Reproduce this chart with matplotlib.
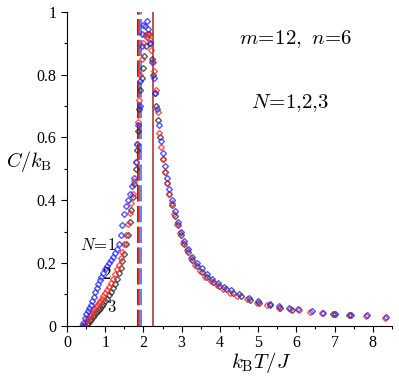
import matplotlib
matplotlib.use("Agg")
import matplotlib.pyplot as plt
from matplotlib.ticker import MultipleLocator

plt.rcParams['font.family'] = 'Liberation Serif'
plt.rcParams['mathtext.fontset'] = 'cm'

# N=1 (blue)
t_n1 = [0.38, 0.42, 0.46, 0.50, 0.54, 0.58, 0.62, 0.66, 0.70, 0.74,
        0.78, 0.82, 0.86, 0.90, 0.95, 1.00, 1.05, 1.10, 1.15, 1.20,
        1.25, 1.30, 1.35, 1.40, 1.45, 1.50, 1.55, 1.60, 1.65, 1.70,
        1.75, 1.80, 1.84, 1.87, 1.90, 1.92, 1.95, 1.97, 2.00, 2.04,
        2.08, 2.12, 2.17, 2.22, 2.27, 2.31, 2.35, 2.40, 2.45, 2.50,
        2.56, 2.62, 2.68, 2.75, 2.82, 2.90, 2.98, 3.07, 3.17, 3.28,
        3.40, 3.52, 3.66, 3.80, 3.95, 4.12, 4.30, 4.50, 4.75, 5.00,
        5.30, 5.56, 5.82, 6.05, 6.40, 6.70, 7.02, 7.42, 7.85, 8.35]
c_n1 = [0.00, 0.010, 0.025, 0.037, 0.047, 0.056, 0.066, 0.078, 0.092, 0.107,
        0.122, 0.134, 0.146, 0.155, 0.167, 0.180, 0.190, 0.200, 0.210, 0.220,
        0.232, 0.245, 0.262, 0.290, 0.320, 0.355, 0.380, 0.400, 0.420, 0.445,
        0.470, 0.520, 0.580, 0.640, 0.700, 0.780, 0.890, 0.930, 0.957, 0.955,
        0.970, 0.945, 0.900, 0.840, 0.790, 0.740, 0.690, 0.640, 0.590, 0.550,
        0.510, 0.470, 0.435, 0.400, 0.365, 0.330, 0.300, 0.270, 0.245, 0.220,
        0.200, 0.183, 0.166, 0.150, 0.137, 0.125, 0.113, 0.100, 0.088, 0.078,
        0.069, 0.062, 0.057, 0.053, 0.047, 0.042, 0.039, 0.035, 0.033, 0.027]

# N=2 (red)
t_n2 = [0.43, 0.47, 0.51, 0.55, 0.59, 0.63, 0.67, 0.71, 0.75, 0.79,
        0.83, 0.87, 0.91, 0.95, 1.00, 1.05, 1.10, 1.15, 1.20, 1.25,
        1.30, 1.35, 1.40, 1.45, 1.50, 1.55, 1.60, 1.64, 1.68, 1.72,
        1.76, 1.80, 1.83, 1.86, 1.89, 1.92, 1.96, 2.00, 2.04, 2.08,
        2.12, 2.16, 2.20, 2.24, 2.28, 2.32, 2.37, 2.41, 2.45, 2.50,
        2.56, 2.62, 2.68, 2.74, 2.81, 2.88, 2.96, 3.04, 3.14, 3.24,
        3.36, 3.48, 3.62, 3.76, 3.92, 4.08, 4.26, 4.46, 4.70, 4.96,
        5.24, 5.54, 5.84, 6.06, 6.36, 6.68, 7.00, 7.40, 7.82, 8.32]
c_n2 = [0.000, 0.008, 0.017, 0.024, 0.030, 0.037, 0.045, 0.053, 0.060, 0.066,
        0.072, 0.080, 0.087, 0.095, 0.105, 0.115, 0.125, 0.137, 0.150, 0.165,
        0.180, 0.195, 0.215, 0.235, 0.260, 0.290, 0.325, 0.360, 0.390, 0.420,
        0.460, 0.520, 0.580, 0.650, 0.720, 0.800, 0.850, 0.900, 0.925, 0.930,
        0.930, 0.910, 0.878, 0.840, 0.810, 0.750, 0.680, 0.613, 0.568, 0.530,
        0.490, 0.455, 0.420, 0.390, 0.355, 0.325, 0.295, 0.265, 0.240, 0.215,
        0.193, 0.175, 0.157, 0.142, 0.130, 0.118, 0.106, 0.096, 0.085, 0.074,
        0.066, 0.058, 0.053, 0.050, 0.045, 0.040, 0.037, 0.033, 0.031, 0.026]

# N=3 (black)
t_n3 = [0.47, 0.51, 0.55, 0.59, 0.63, 0.67, 0.71, 0.75, 0.79, 0.83,
        0.87, 0.91, 0.95, 1.00, 1.05, 1.10, 1.15, 1.20, 1.25, 1.30,
        1.35, 1.40, 1.45, 1.50, 1.55, 1.60, 1.64, 1.68, 1.72, 1.76,
        1.80, 1.83, 1.86, 1.89, 1.92, 1.95, 1.98, 2.02, 2.06, 2.10,
        2.14, 2.18, 2.22, 2.26, 2.30, 2.34, 2.39, 2.44, 2.50, 2.56,
        2.62, 2.68, 2.75, 2.82, 2.90, 2.98, 3.07, 3.17, 3.28, 3.40,
        3.53, 3.67, 3.82, 3.98, 4.15, 4.34, 4.55, 4.78, 5.02, 5.30,
        5.58, 5.88, 6.95, 7.38]
c_n3 = [0.000, 0.005, 0.010, 0.016, 0.022, 0.028, 0.034, 0.040, 0.046, 0.052,
        0.058, 0.064, 0.070, 0.078, 0.087, 0.097, 0.108, 0.120, 0.133, 0.150,
        0.168, 0.185, 0.205, 0.230, 0.260, 0.290, 0.330, 0.370, 0.410, 0.450,
        0.500, 0.560, 0.620, 0.690, 0.750, 0.790, 0.820, 0.860, 0.890, 0.920,
        0.930, 0.900, 0.850, 0.800, 0.740, 0.700, 0.655, 0.600, 0.530, 0.490,
        0.455, 0.420, 0.385, 0.350, 0.320, 0.290, 0.260, 0.235, 0.210, 0.190,
        0.172, 0.155, 0.140, 0.127, 0.116, 0.105, 0.094, 0.083, 0.074, 0.066,
        0.058, 0.052, 0.037, 0.035]

# critical temperatures (vertical guide lines)
tc_dashed = [1.855, 1.875, 1.945]
tc_dashed_colors = ['#6b1a14', '#e03a30', '#5577ff']
tc_solid = 2.26

fig = plt.figure(figsize=(3.99, 3.78), dpi=100)
ax = fig.add_axes([0.168, 0.138, 0.814, 0.831])

for x, col in zip(tc_dashed, tc_dashed_colors):
    ax.axvline(x, color=col, lw=1.3, ls=(0, (9, 2.5)), zorder=1)
ax.axvline(tc_solid, color='#b0382c', lw=1.2, zorder=1)

series = [(t_n3, c_n3, '#303030'), (t_n2, c_n2, '#ff2a2a'), (t_n1, c_n1, '#2b2bff')]
for t, c, col in series:
    ax.plot(t, c, ls='none', marker='D', ms=3.0, mfc='none', mec=col,
            mew=1.0, alpha=0.8, zorder=2)

ax.set_xlim(0, 8.5)
ax.set_ylim(0, 1)
ax.spines['top'].set_visible(False)
ax.spines['right'].set_visible(False)
ax.xaxis.set_major_locator(MultipleLocator(1))
ax.xaxis.set_minor_locator(MultipleLocator(0.5))
ax.yaxis.set_minor_locator(MultipleLocator(0.1))
ax.set_yticks([0, 0.2, 0.4, 0.6, 0.8, 1])
ax.set_yticklabels(['0', '0.2', '0.4', '0.6', '0.8', '1'])
ax.tick_params(which='major', length=4, width=0.8, labelsize=11.5)
ax.tick_params(axis='x', which='major', pad=2.5)
ax.tick_params(which='minor', length=2.5, width=0.8)

ax.text(0.34, 0.254, r'$N\!=\!1$', fontsize=12, ha='left', va='center')
ax.text(1.04, 0.162, r'$2$', fontsize=12, ha='center', va='center')
ax.text(1.17, 0.057, r'$3$', fontsize=12, ha='center', va='center')

fig.text(0.74, 0.897, r'$m\!=\!12,\ n\!=\!6$', fontsize=15, ha='center', va='center')
fig.text(0.727, 0.727, r'$N\!=\!1{,}2{,}3$', fontsize=15, ha='center', va='center')

fig.text(0.072, 0.572, r'$C/k_{\mathrm{B}}$', fontsize=14.5, ha='center', va='center')
fig.text(0.655, 0.042, r'$k_{\mathrm{B}}T/J$', fontsize=15, ha='center', va='center')

fig.savefig('out.png', dpi=100)
